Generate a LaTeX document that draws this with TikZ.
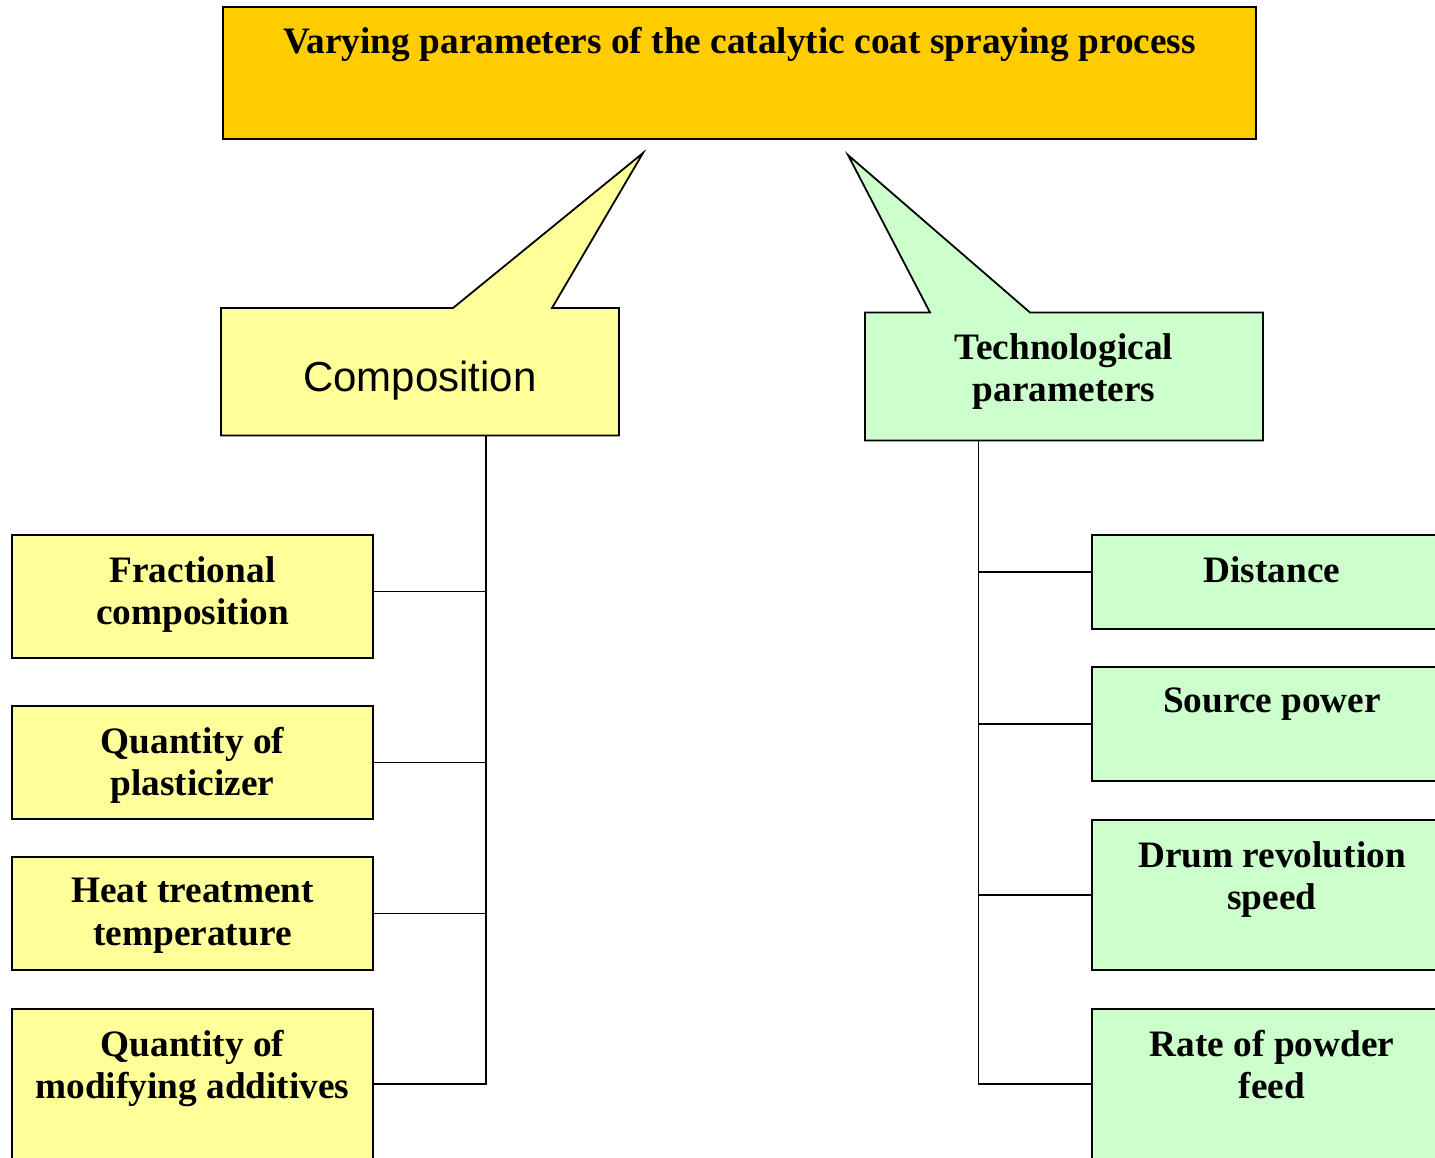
\documentclass[tikz,border=0pt]{standalone}
\usepackage{fontspec}
\setmainfont{Liberation Serif}
\newfontfamily\sansf{Liberation Sans}
\definecolor{topc}{HTML}{FFCC00}
\definecolor{yel}{HTML}{FFFF99}
\definecolor{grn}{HTML}{CCFFCC}
\begin{document}
\begin{tikzpicture}[x=1pt,y=-1pt,
  box/.style={draw=black, line width=1.8pt, inner sep=0pt, outer sep=0pt, anchor=north west},
  frame/.style={inner sep=0pt, outer sep=0pt, anchor=north west},
  callout/.style={draw=black, line width=1.8pt, line join=miter},
  txt/.style={inner sep=0pt, anchor=north, align=center, font=\fontsize{37.3}{42.5}\selectfont\bfseries},
  conn/.style={draw=black, line width=1.8pt}]
\useasboundingbox (0,0) rectangle (1435,1157);
\clip (0,0) rectangle (1435,1157);
\fill[white] (0,0) rectangle (1435,1157);

% top box
\node[box, fill=topc, minimum width=1033pt, minimum height=132pt] (top) at (223,7) {};
\node[txt] (toptxt) at ([yshift=-20.5pt]top.north) {Varying parameters of the catalytic coat spraying process};

% callouts
\path[callout, fill=yel] (221,308) -- (453,308) -- (643,153) -- (552,308) -- (619,308) -- (619,435.5) -- (221,435.5) -- cycle;
\node[frame, minimum width=398pt, minimum height=127.5pt] (comp) at (221,308) {};
\node[inner sep=0pt, anchor=base, font=\sansf\fontsize{42}{48}\selectfont] (comptxt) at ([yshift=-19.5pt]comp.center) {Composition};

\path[callout, fill=grn] (865,312.5) -- (930,312.5) -- (848,155) -- (1030,312.5) -- (1263,312.5) -- (1263,440.5) -- (865,440.5) -- cycle;
\node[frame, minimum width=398pt, minimum height=128pt] (tech) at (865,312.5) {};
\node[txt] (techtxt) at ([yshift=-20.5pt]tech.north) {Technological\\parameters};

% left boxes
\node[box, fill=yel, minimum width=361pt, minimum height=123pt] (f1) at (12,535) {};
\node[box, fill=yel, minimum width=361pt, minimum height=113pt] (f2) at (12,706) {};
\node[box, fill=yel, minimum width=361pt, minimum height=113pt] (f3) at (12,857) {};
\node[box, fill=yel, minimum width=361pt, minimum height=150pt] (f4) at (12,1009) {};
\node[txt] (f1t) at ([yshift=-21pt]f1.north) {Fractional\\composition};
\node[txt] (f2t) at ([yshift=-21pt]f2.north) {Quantity of\\plasticizer};
\node[txt] (f3t) at ([yshift=-21pt]f3.north) {Heat treatment\\temperature};
\node[txt] (f4t) at ([yshift=-21pt]f4.north) {Quantity of\\modifying additives};

% right boxes
\node[box, fill=grn, minimum width=360pt, minimum height=94pt] (d1) at (1092,535) {};
\node[box, fill=grn, minimum width=360pt, minimum height=114pt] (d2) at (1092,667) {};
\node[box, fill=grn, minimum width=360pt, minimum height=150pt] (d3) at (1092,820) {};
\node[box, fill=grn, minimum width=360pt, minimum height=150pt] (d4) at (1092,1009) {};
\node[txt] (d1t) at ([yshift=-21pt]d1.north) {Distance};
\node[txt] (d2t) at ([yshift=-21pt]d2.north) {Source power};
\node[txt] (d3t) at ([yshift=-21pt]d3.north) {Drum revolution\\speed};
\node[txt] (d4t) at ([yshift=-21pt]d4.north) {Rate of powder\\feed};

% connectors
\coordinate (trunkL) at (486,0);
\coordinate (trunkR) at (978.5,0);
\draw[conn] (comp.south -| trunkL) -- (f4.east -| trunkL) -- (f4.east);
\draw[conn] ([yshift=5pt]f1.east) -- ([yshift=5pt]f1.east -| trunkL);
\draw[conn] (f2.east) -- (f2.east -| trunkL);
\draw[conn] (f3.east) -- (f3.east -| trunkL);

\draw[conn] (tech.south -| trunkR) -- (d4.west -| trunkR) -- (d4.west);
\draw[conn] ([yshift=10pt]d1.west) -- ([yshift=10pt]d1.west -| trunkR);
\draw[conn] (d2.west) -- (d2.west -| trunkR);
\draw[conn] (d3.west) -- (d3.west -| trunkR);
\end{tikzpicture}
\end{document}
